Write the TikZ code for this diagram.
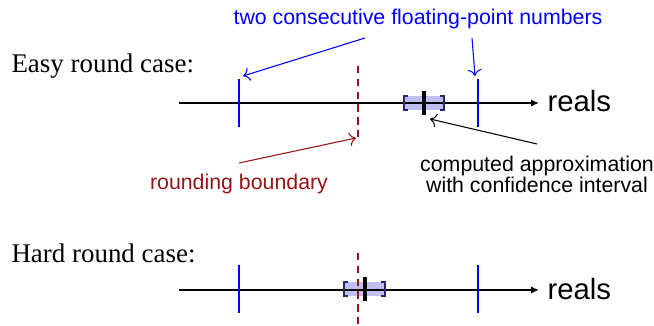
\documentclass[tikz,border=0pt]{standalone}
\usepackage{fontspec}
\setmainfont{Liberation Serif}
\setsansfont{Liberation Sans}
\usetikzlibrary{arrows.meta}
\definecolor{fpblue}{RGB}{0,0,255}
\definecolor{bdred}{RGB}{150,20,20}
\definecolor{boxfill}{RGB}{190,190,240}
\definecolor{boxedge}{RGB}{40,40,100}
\begin{document}
\begin{tikzpicture}[x=0.375pt,y=-0.375pt,
  lbl/.style={font=\sffamily\fontsize{8}{9.6}\selectfont, inner sep=0pt},
  reallbl/.style={font=\sffamily\fontsize{11}{13}\selectfont, inner sep=0pt, anchor=base west},
  casetxt/.style={font=\fontsize{10.1}{12}\selectfont, inner sep=0pt, anchor=base west},
  axisline/.style={line width=0.75pt, -{Latex[length=3pt,width=2.8pt]}},
  fptick/.style={draw=fpblue, line width=0.8pt},
  approxmark/.style={draw=black, line width=1.2pt},
  bndline/.style={draw=bdred, line width=0.45pt, dash pattern=on 2.8pt off 2pt},
  ptr/.style={->, line width=0.4pt},
  cibox/.style={fill=boxfill, draw=none},
  cibrack/.style={draw=boxedge, line width=0.4pt}]
\useasboundingbox (0,0) rectangle (654,326);

% ---- Easy case ----
\node[casetxt] (easy) at (11,73) {Easy round case:};
\coordinate (e0) at (179,103);
\coordinate (e1) at (539,103);
\fill[cibox] (404,96) rectangle (444,110);
\draw[axisline] (e0) -- (e1);
\node[reallbl] (reals1) at (547,112) {reals};
\draw[cibrack] (408,96) -- (404,96) -- (404,110) -- (408,110);
\draw[cibrack] (440,96) -- (444,96) -- (444,110) -- (440,110);
\coordinate (ef1t) at (239,79); \coordinate (ef1b) at (239,127);
\coordinate (ef2t) at (478,79); \coordinate (ef2b) at (478,127);
\draw[fptick] (ef1t) -- (ef1b);
\draw[fptick] (ef2t) -- (ef2b);
\coordinate (ebt) at (358,66); \coordinate (ebb) at (358,139);
\draw[bndline] (ebt) -- (ebb);
\coordinate (emt) at (424,91); \coordinate (emb) at (424,115);
\draw[approxmark] (emt) -- (emb);

% labels of easy case
\node[lbl, fpblue, anchor=base] (fpn) at (418,25) {two consecutive floating-point numbers};
\coordinate (fpnA) at (365,38); \coordinate (fpnB) at (472,38);
\coordinate (fpnAe) at (243,76); \coordinate (fpnBe) at (475,76);
\draw[ptr, fpblue] (fpnA) -- (fpnAe);
\draw[ptr, fpblue] (fpnB) -- (fpnBe);

\node[lbl, bdred, anchor=base] (rb) at (239,190) {rounding boundary};
\coordinate (rbs) at (239,163); \coordinate (rbe) at (356,138);
\draw[ptr, bdred] (rbs) -- (rbe);

\node[lbl, anchor=base] (ca1) at (537,172) {computed approximation};
\node[lbl, anchor=base] (ca2) at (537,193) {with confidence interval};
\coordinate (cas) at (537,144); \coordinate (cae) at (430,119);
\draw[ptr] (cas) -- (cae);

% ---- Hard case ----
\node[casetxt] (hard) at (11,263) {Hard round case:};
\coordinate (h0) at (179,290);
\coordinate (h1) at (539,290);
\fill[cibox] (344,282) rectangle (385,296);
\draw[axisline] (h0) -- (h1);
\node[reallbl] (reals2) at (547,299) {reals};
\draw[cibrack] (348,282) -- (344,282) -- (344,296) -- (348,296);
\draw[cibrack] (381,282) -- (385,282) -- (385,296) -- (381,296);
\coordinate (hf1t) at (239,265); \coordinate (hf1b) at (239,313);
\coordinate (hf2t) at (478,265); \coordinate (hf2b) at (478,313);
\draw[fptick] (hf1t) -- (hf1b);
\draw[fptick] (hf2t) -- (hf2b);
\coordinate (hbt) at (358,253); \coordinate (hbb) at (358,326);
\draw[bndline] (hbt) -- (hbb);
\coordinate (hmt) at (365,277); \coordinate (hmb) at (365,301);
\draw[approxmark] (hmt) -- (hmb);
\end{tikzpicture}
\end{document}
